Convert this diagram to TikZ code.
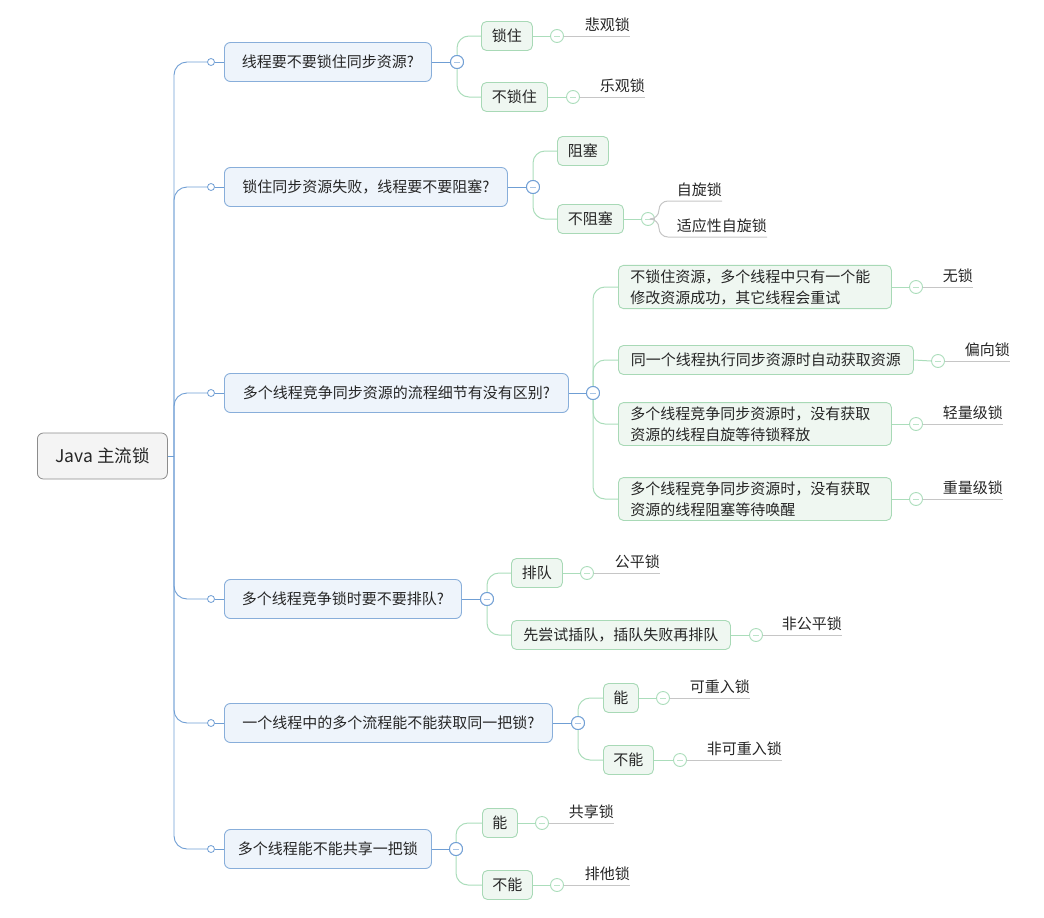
\documentclass[tikz,border=0pt]{standalone}
\usepackage{fontspec}
\setmainfont{Noto Sans CJK SC}
\definecolor{txt}{HTML}{262626}
\definecolor{lonebd}{HTML}{88AEDA}
\definecolor{lonefill}{HTML}{EEF4FB}
\definecolor{spine}{HTML}{6F9ED4}
\definecolor{ltwobd}{HTML}{A8D9B6}
\definecolor{ltwofill}{HTML}{EFF7F1}
\definecolor{gline}{HTML}{ABDDBB}
\definecolor{leafline}{HTML}{C6C6C6}
\definecolor{rootbd}{HTML}{8C8C8C}
\definecolor{rootfill}{HTML}{F4F4F4}
\newcommand{\nfont}{\fontsize{15}{21}\selectfont}
\tikzset{
  rootbox/.style={draw=rootbd, fill=rootfill, rounded corners=6pt, line width=0.8pt,
    minimum width=130pt, minimum height=46pt, anchor=west, inner sep=0pt,
    font=\fontsize{17.5}{21}\selectfont, text=txt},
  lone/.style={draw=lonebd, fill=lonefill, rounded corners=6pt, line width=0.9pt,
    minimum height=39pt, anchor=west, inner xsep=8pt, inner ysep=0pt, font=\nfont, text=txt},
  ltwo/.style={draw=ltwobd, fill=ltwofill, rounded corners=5pt, line width=0.9pt,
    minimum height=29pt, anchor=west, inner xsep=6pt, inner ysep=0pt, font=\nfont, text=txt},
  ltwom/.style={ltwo, align=left, inner xsep=12pt, inner ysep=4pt},
  leaf/.style={anchor=south east, inner xsep=0pt, inner ysep=4pt, font=\nfont, text=txt},
  sdot/.style={circle, draw=spine, fill=white, line width=0.8pt, minimum size=7pt, inner sep=0pt},
  bexp/.style={circle, draw=spine, fill=white, line width=0.9pt, minimum size=13pt, inner sep=0pt,
    path picture={\draw[spine!60, line width=0.6pt] ([xshift=-3pt]path picture bounding box.center) -- ([xshift=3pt]path picture bounding box.center);}},
  gexp/.style={circle, draw=gline, fill=white, line width=0.9pt, minimum size=13pt, inner sep=0pt,
    path picture={\draw[gline!80, line width=0.6pt] ([xshift=-3pt]path picture bounding box.center) -- ([xshift=3pt]path picture bounding box.center);}},
  bline/.style={draw=spine, line width=0.9pt},
  grline/.style={draw=gline, line width=1pt},
  lfline/.style={draw=leafline, line width=1pt},
}
\begin{document}
\begin{tikzpicture}[x=1pt,y=-1pt]
\useasboundingbox (0,0) rectangle (1044,918);

% root
\node[rootbox] (root) at (37,456) {Java 主流锁};
\coordinate (sp) at (174,456);

% level 1
\node[lone, minimum width=207pt] (n1) at (224,62) {线程要不要锁住同步资源?};
\node[lone, minimum width=283pt] (n2) at (224,187) {锁住同步资源失败，线程要不要阻塞?};
\node[lone, minimum width=344pt] (n3) at (224,393) {多个线程竞争同步资源的流程细节有没有区别?};
\node[lone, minimum width=237pt] (n4) at (224,599) {多个线程竞争锁时要不要排队?};
\node[lone, minimum width=328pt] (n5) at (224,723) {一个线程中的多个流程能不能获取同一把锁?};
\node[lone, minimum width=207pt] (n6) at (224,849) {多个线程能不能共享一把锁};

\foreach \i/\y in {1/62,2/187,3/393,4/599,5/723,6/849}{
  \node[sdot] (s\i) at (211,\y) {};
}
\node[bexp] (e1) at (457,62) {};
\node[bexp] (e2) at (533,187) {};
\node[bexp] (e3) at (593,393) {};
\node[bexp] (e4) at (487,599) {};
\node[bexp] (e5) at (578,723) {};
\node[bexp] (e6) at (456,849) {};

% spine
\draw[bline] (root.east) -- (sp);
\foreach \i in {1,...,6}{
  \draw[bline, rounded corners=13pt] (sp) |- (s\i.west);
  \draw[bline] (s\i.east) -- (n\i.west);
  \draw[bline] (n\i.east) -- (e\i.west);
}

% level 2
\node[ltwo, minimum width=51pt] (a1) at (481,36) {锁住};
\node[ltwo, minimum width=66pt] (a2) at (481,97) {不锁住};
\node[ltwo, minimum width=51pt] (b1) at (557,151) {阻塞};
\node[ltwo, minimum width=66pt] (b2) at (557,219) {不阻塞};
\node[ltwom, text width=249pt] (c1) at (618,287) {不锁住资源，多个线程中只有一个能\\修改资源成功，其它线程会重试};
\node[ltwo, minimum width=295pt] (c2) at (618,360) {同一个线程执行同步资源时自动获取资源};
\node[ltwom, text width=249pt] (c3) at (618,424) {多个线程竞争同步资源时，没有获取\\资源的线程自旋等待锁释放};
\node[ltwom, text width=249pt] (c4) at (618,499) {多个线程竞争同步资源时，没有获取\\资源的线程阻塞等待唤醒};
\node[ltwo, minimum width=51pt] (d1) at (511,573) {排队};
\node[ltwo, minimum width=219pt] (d2) at (511,635) {先尝试插队，插队失败再排队};
\node[ltwo, minimum width=35pt] (f1) at (603,698) {能};
\node[ltwo, minimum width=50pt] (f2) at (603,760) {不能};
\node[ltwo, minimum width=35pt] (g1) at (482,823) {能};
\node[ltwo, minimum width=50pt] (g2) at (482,885) {不能};

% green connectors
\foreach \e/\t in {e1/a1,e1/a2,e2/b1,e2/b2,e3/c1,e3/c2,e3/c3,e3/c4,e4/d1,e4/d2,e5/f1,e5/f2,e6/g1,e6/g2}{
  \draw[grline, rounded corners=12pt] (\e) |- (\t.west);
}
\foreach \e in {e1,e2,e3,e4,e5,e6}{ \node[bexp] at (\e) {}; }

% level-2 circles
\node[gexp] (ka1) at (557,36) {};
\node[gexp] (ka2) at (573,97) {};
\node[gexp] (kb2) at (648,219) {};
\node[gexp] (kc1) at (916,287) {};
\node[gexp] (kc2) at (938,361) {};
\node[gexp] (kc3) at (916,424) {};
\node[gexp] (kc4) at (916,499) {};
\node[gexp] (kd1) at (587,573) {};
\node[gexp] (kd2) at (756,635) {};
\node[gexp] (kf1) at (663,698) {};
\node[gexp] (kf2) at (680,760) {};
\node[gexp] (kg1) at (542,823) {};
\node[gexp] (kg2) at (557,885) {};

\foreach \b/\k in {a1/ka1,a2/ka2,b2/kb2,c1/kc1,c2/kc2,c3/kc3,c4/kc4,d1/kd1,d2/kd2,f1/kf1,f2/kf2,g1/kg1,g2/kg2}{
  \draw[grline] (\b.east) -- (\k.west);
}

% leaves
\node[leaf] (la1) at (630,36) {悲观锁};
\node[leaf] (la2) at (645,97) {乐观锁};
\node[leaf] (lb1) at (722,201) {自旋锁};
\node[leaf] (lb2) at (767,237) {适应性自旋锁};
\node[leaf] (lc1) at (973,287) {无锁};
\node[leaf] (lc2) at (1010,361) {偏向锁};
\node[leaf] (lc3) at (1003,424) {轻量级锁};
\node[leaf] (lc4) at (1003,499) {重量级锁};
\node[leaf] (ld1) at (660,573) {公平锁};
\node[leaf] (ld2) at (842,635) {非公平锁};
\node[leaf] (lf1) at (750,698) {可重入锁};
\node[leaf] (lf2) at (782,760) {非可重入锁};
\node[leaf] (lg1) at (614,823) {共享锁};
\node[leaf] (lg2) at (630,885) {排他锁};

\foreach \k/\l in {ka1/la1,ka2/la2,kc1/lc1,kc2/lc2,kc3/lc3,kc4/lc4,kd1/ld1,kd2/ld2,kf1/lf1,kf2/lf2,kg1/lg1,kg2/lg2}{
  \draw[lfline] (\k.east) -- (\l.south east);
}
\draw[lfline, rounded corners=9pt] (kb2.east) -- ++(4,0) |- (lb1.south east);
\draw[lfline, rounded corners=9pt] (kb2.east) -- ++(4,0) |- (lb2.south east);
\end{tikzpicture}
\end{document}
